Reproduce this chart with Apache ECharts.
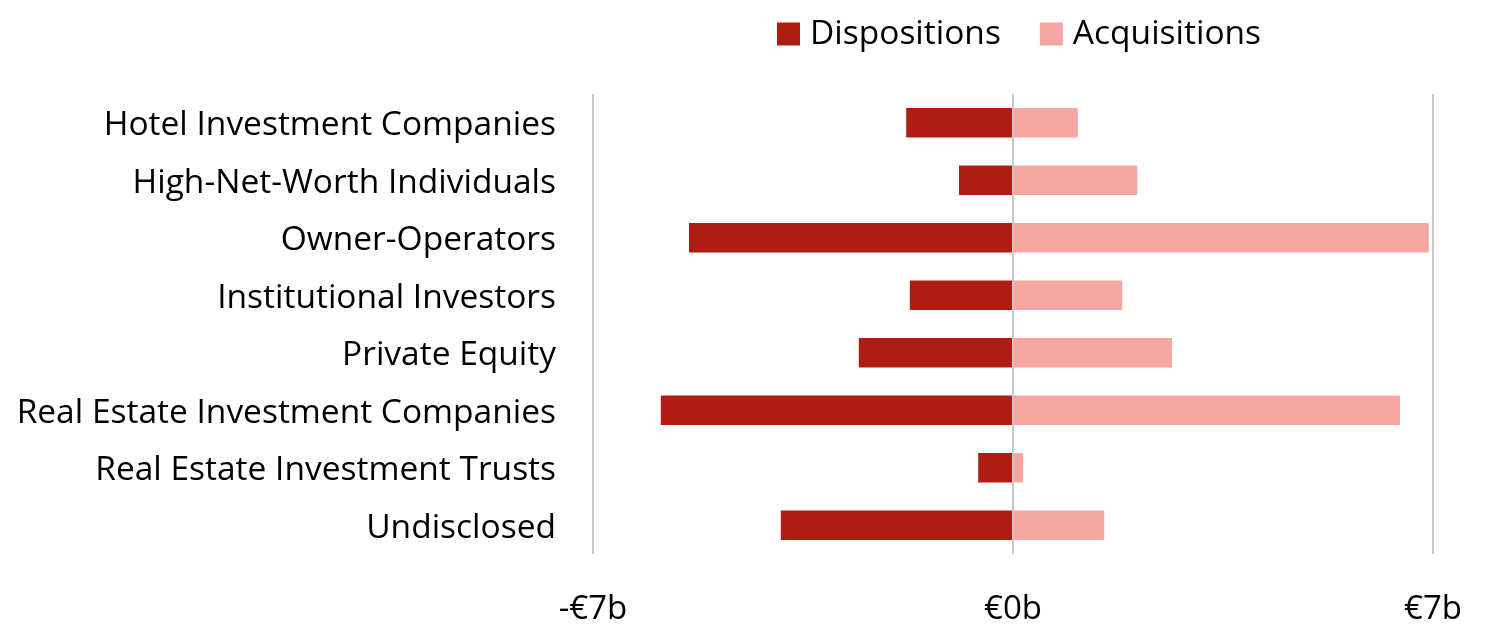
<!DOCTYPE html>
<html>
<head>
<meta charset="utf-8">
<script src="https://cdn.jsdelivr.net/npm/echarts@6/dist/echarts.min.js"></script>
<style>
html,body{margin:0;padding:0;background:#fff;}
#c{width:1492px;height:644px;}
</style>
</head>
<body>
<div id="c"></div>
<script>
var categories = ["Hotel Investment Companies","High-Net-Worth Individuals","Owner-Operators","Institutional Investors","Private Equity","Real Estate Investment Companies","Real Estate Investment Trusts","Undisclosed"];
var dispositions = [-1.78,-0.9,-5.4,-1.72,-2.57,-5.87,-0.58,-3.87];
var acquisitions = [1.08,2.07,6.93,1.82,2.65,6.45,0.17,1.52];
var xTicks = [-7,0,7];

var FONT = "Open Sans";
var chart = echarts.init(document.getElementById('c'));
chart.setOption({
  animation:false,
  textStyle:{fontFamily:FONT},
  legend:{
    top:17, left:777, padding:0,
    itemWidth:23, itemHeight:23, itemGap:39,
    icon:'rect',
    textStyle:{fontSize:33.5, color:'#000', fontFamily:FONT, padding:[0,0,0,5]},
    data:['Dispositions','Acquisitions']
  },
  grid:{left:593, right:59, top:94, bottom:90, containLabel:false},
  xAxis:{
    type:'value', min:xTicks[0], max:xTicks[2], interval:7,
    z:5,
    axisLine:{show:false}, axisTick:{show:false},
    splitLine:{show:true, lineStyle:{color:'#c8c8c8', width:2}},
    axisLabel:{fontSize:33, color:'#000', margin:39, fontFamily:FONT,
      formatter:function(v){return (v<0?'-':'')+'€'+Math.abs(v)+'b';}}
  },
  yAxis:{
    type:'category', inverse:true, data:categories,
    axisLine:{show:false}, axisTick:{show:false},
    axisLabel:{color:'#000', margin:37, fontFamily:FONT,
      formatter:function(v){return '{a|'+v+'}';},
      rich:{a:{fontSize:33.5, color:'#000', fontFamily:FONT, lineHeight:40, padding:[6,0,0,0]}}}
  },
  series:[
    {name:'Dispositions', type:'bar', stack:'s', data:dispositions, barWidth:'51%',
     itemStyle:{color:'#AF1C13'}},
    {name:'Acquisitions', type:'bar', stack:'s', data:acquisitions, barWidth:'51%',
     itemStyle:{color:'#F6A7A2'}}
  ]
});
</script>
</body>
</html>
